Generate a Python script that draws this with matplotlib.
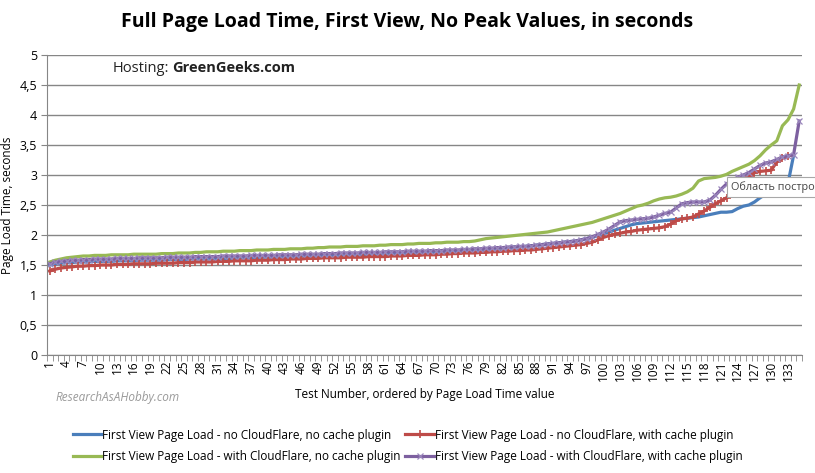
import numpy as np
import matplotlib
matplotlib.use("Agg")
import matplotlib.pyplot as plt
from matplotlib.ticker import FixedLocator, FuncFormatter

# page load times (seconds), each series sorted ascending
no_cf_no_cache = [
    1.50, 1.52, 1.53, 1.54, 1.54, 1.55, 1.55, 1.55, 1.56, 1.56,
    1.56, 1.56, 1.57, 1.57, 1.57, 1.57, 1.58, 1.58, 1.58, 1.58,
    1.58, 1.59, 1.59, 1.59, 1.59, 1.60, 1.60, 1.60, 1.60, 1.60,
    1.61, 1.61, 1.61, 1.61, 1.62, 1.62, 1.62, 1.62, 1.63, 1.63,
    1.63, 1.63, 1.64, 1.64, 1.64, 1.65, 1.65, 1.65, 1.65, 1.66,
    1.66, 1.66, 1.66, 1.67, 1.67, 1.67, 1.67, 1.68, 1.68, 1.68,
    1.68, 1.69, 1.69, 1.69, 1.70, 1.70, 1.70, 1.71, 1.71, 1.71,
    1.72, 1.72, 1.73, 1.73, 1.74, 1.74, 1.75, 1.75, 1.76, 1.77,
    1.78, 1.78, 1.79, 1.80, 1.80, 1.81, 1.82, 1.83, 1.84, 1.85,
    1.86, 1.87, 1.88, 1.89, 1.90, 1.92, 1.94, 1.96, 1.99, 2.02,
    2.05, 2.08, 2.11, 2.14, 2.17, 2.19, 2.20, 2.21, 2.22, 2.23,
    2.24, 2.25, 2.26, 2.27, 2.28, 2.29, 2.30, 2.32, 2.34, 2.36,
    2.38, 2.38, 2.39, 2.44, 2.48, 2.50, 2.55, 2.62, 2.68, 2.72,
    2.76, 2.80, 2.86, 3.33,
]
no_cf_cache = [
    1.40, 1.43, 1.45, 1.46, 1.47, 1.48, 1.48, 1.49, 1.49, 1.50,
    1.50, 1.50, 1.51, 1.51, 1.51, 1.52, 1.52, 1.52, 1.52, 1.53,
    1.53, 1.53, 1.53, 1.54, 1.54, 1.54, 1.55, 1.55, 1.55, 1.55,
    1.56, 1.56, 1.56, 1.57, 1.57, 1.57, 1.57, 1.58, 1.58, 1.58,
    1.59, 1.59, 1.59, 1.60, 1.60, 1.60, 1.61, 1.61, 1.61, 1.62,
    1.62, 1.62, 1.62, 1.63, 1.63, 1.63, 1.63, 1.64, 1.64, 1.64,
    1.64, 1.65, 1.65, 1.65, 1.66, 1.66, 1.66, 1.67, 1.67, 1.67,
    1.68, 1.68, 1.69, 1.69, 1.70, 1.70, 1.70, 1.71, 1.71, 1.72,
    1.72, 1.73, 1.73, 1.74, 1.74, 1.75, 1.75, 1.76, 1.77, 1.78,
    1.79, 1.80, 1.81, 1.82, 1.83, 1.84, 1.86, 1.88, 1.92, 1.96,
    1.99, 2.01, 2.03, 2.05, 2.06, 2.08, 2.09, 2.10, 2.11, 2.12,
    2.14, 2.18, 2.24, 2.27, 2.28, 2.30, 2.35, 2.40, 2.46, 2.52,
    2.57, 2.62, 2.68, 2.76, 2.86, 2.96, 3.04, 3.06, 3.07, 3.08,
    3.22, 3.28, 3.31,
]
cf_no_cache = [
    1.55, 1.58, 1.60, 1.62, 1.63, 1.64, 1.65, 1.65, 1.66, 1.66,
    1.66, 1.67, 1.67, 1.67, 1.67, 1.68, 1.68, 1.68, 1.68, 1.68,
    1.69, 1.69, 1.69, 1.70, 1.70, 1.70, 1.71, 1.71, 1.72, 1.72,
    1.72, 1.73, 1.73, 1.73, 1.74, 1.74, 1.74, 1.75, 1.75, 1.75,
    1.76, 1.76, 1.76, 1.77, 1.77, 1.77, 1.78, 1.78, 1.79, 1.79,
    1.80, 1.80, 1.80, 1.81, 1.81, 1.81, 1.82, 1.82, 1.82, 1.83,
    1.83, 1.84, 1.84, 1.84, 1.85, 1.85, 1.86, 1.86, 1.86, 1.87,
    1.87, 1.88, 1.88, 1.88, 1.89, 1.89, 1.90, 1.92, 1.94, 1.95,
    1.96, 1.97, 1.98, 1.99, 2.00, 2.01, 2.02, 2.03, 2.04, 2.05,
    2.07, 2.09, 2.11, 2.13, 2.15, 2.17, 2.19, 2.21, 2.24, 2.27,
    2.30, 2.33, 2.36, 2.40, 2.44, 2.48, 2.50, 2.53, 2.57, 2.60,
    2.62, 2.63, 2.65, 2.68, 2.72, 2.78, 2.90, 2.94, 2.95, 2.96,
    2.98, 3.01, 3.06, 3.10, 3.14, 3.18, 3.24, 3.32, 3.42, 3.50,
    3.57, 3.82, 3.92, 4.10, 4.50,
]
cf_cache = [
    1.52, 1.55, 1.56, 1.57, 1.58, 1.58, 1.59, 1.59, 1.60, 1.60,
    1.60, 1.60, 1.61, 1.61, 1.61, 1.61, 1.62, 1.62, 1.62, 1.62,
    1.62, 1.63, 1.63, 1.63, 1.63, 1.63, 1.64, 1.64, 1.64, 1.64,
    1.64, 1.65, 1.65, 1.65, 1.65, 1.65, 1.66, 1.66, 1.66, 1.66,
    1.66, 1.67, 1.67, 1.67, 1.67, 1.68, 1.68, 1.68, 1.68, 1.69,
    1.69, 1.69, 1.70, 1.70, 1.70, 1.70, 1.71, 1.71, 1.71, 1.71,
    1.72, 1.72, 1.72, 1.72, 1.73, 1.73, 1.73, 1.73, 1.74, 1.74,
    1.74, 1.75, 1.75, 1.75, 1.76, 1.76, 1.77, 1.77, 1.78, 1.78,
    1.79, 1.79, 1.80, 1.80, 1.81, 1.81, 1.82, 1.83, 1.84, 1.85,
    1.86, 1.87, 1.88, 1.89, 1.90, 1.92, 1.94, 1.97, 2.01, 2.05,
    2.10, 2.16, 2.22, 2.24, 2.25, 2.26, 2.27, 2.28, 2.30, 2.33,
    2.36, 2.38, 2.45, 2.52, 2.54, 2.55, 2.55, 2.55, 2.58, 2.66,
    2.76, 2.85, 2.92, 2.96, 3.00, 3.04, 3.10, 3.16, 3.20, 3.22,
    3.26, 3.30, 3.32, 3.34, 3.90,
]

labels = [
    "First View Page Load - no CloudFlare, no cache plugin",
    "First View Page Load - no CloudFlare, with cache plugin",
    "First View Page Load - with CloudFlare, no cache plugin",
    "First View Page Load - with CloudFlare, with cache plugin",
]
n_tests = 135
y_ticks = [0, 0.5, 1, 1.5, 2, 2.5, 3, 3.5, 4, 4.5, 5]

plt.rcParams['font.family'] = ['Open Sans', 'DejaVu Sans']

fig = plt.figure(figsize=(8.15, 4.73), dpi=100)
ax = fig.add_axes([47 / 815, 118 / 473, 755 / 815, 300 / 473])

def idx(vals):
    return np.arange(1, len(vals) + 1)

l_blue, = ax.plot(idx(no_cf_no_cache), no_cf_no_cache, color='#4A7EBB', lw=2.3)
l_red, = ax.plot(idx(no_cf_cache), no_cf_cache, color='#BE4B48', lw=2.3, marker='+',
                 ms=6, mew=1.2)
l_green, = ax.plot(idx(cf_no_cache), cf_no_cache, color='#98B954', lw=2.3)
l_purple, = ax.plot(idx(cf_cache), cf_cache, color='#7D60A0', lw=2.3, marker='x',
                    ms=5, mew=0.9, mec='#9A86BC')

ax.set_xlim(0.5, n_tests + 0.5)
ax.set_ylim(0, 5)
ax.set_yticks(y_ticks)
ax.yaxis.set_major_formatter(FuncFormatter(lambda v, p: f"{v:g}".replace('.', ',')))
ax.grid(axis='y', color='#868686', lw=1)
ax.set_axisbelow(True)

ax.xaxis.set_major_locator(FixedLocator(list(range(1, n_tests + 1, 3))))
ax.xaxis.set_minor_locator(FixedLocator(np.arange(0.5, n_tests + 1, 1)))
ax.tick_params(axis='x', which='major', length=0, labelsize=8.5, rotation=90, pad=4)
ax.tick_params(axis='x', which='minor', length=4, color='#868686')
ax.tick_params(axis='y', length=4, color='#868686', labelsize=9, pad=3)

for s in ['top', 'right']:
    ax.spines[s].set_visible(False)
for s in ['left', 'bottom']:
    ax.spines[s].set_color('#868686')

ax.set_ylabel("Page Load Time, seconds", fontsize=8.5, labelpad=4)
ax.set_xlabel("Test Number, ordered by Page Load Time value", fontsize=8.5, labelpad=5)

fig.text(0.5, 1 - 22 / 473, "Full Page Load Time, First View, No Peak Values, in seconds",
         ha='center', va='center', fontsize=14, fontweight='bold')

fig.text(113 / 815, 1 - 68 / 473, "Hosting:", fontsize=10.5, color='#222222', va='center')
fig.text(172 / 815, 1 - 68 / 473, "GreenGeeks.com", fontsize=10.5,
         fontweight='bold', color='#222222', va='center')

fig.text(55 / 815, 1 - 397 / 473, "ResearchAsAHobby.com", fontsize=8.5,
         style='italic', color='#9a9a9a', va='center')

# chart-area tooltip at the right edge, as in the screenshot
fig.text(731 / 815, 1 - 187 / 473, "Область постро", fontsize=7.8,
         color='#444444', va='center', ha='left',
         bbox=dict(boxstyle='square,pad=0.35', fc='white', ec='#a8a8a8', lw=0.8))

fig.legend([l_blue, l_green, l_red, l_purple],
           [labels[0], labels[2], labels[1], labels[3]],
           loc='upper left', bbox_to_anchor=(62 / 815, 1 - 418 / 473), ncol=2,
           frameon=False, fontsize=8.5, handlelength=2.4, handletextpad=0.1,
           columnspacing=0.4, labelspacing=0.75)

fig.savefig("out.png", dpi=100)
